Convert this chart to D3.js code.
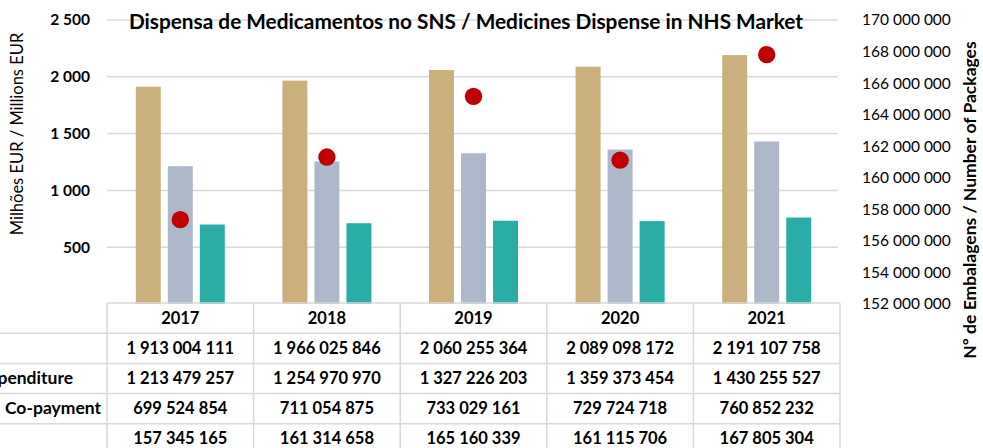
<!DOCTYPE html>
<html>
<head>
<meta charset="utf-8">
<script src="https://cdn.jsdelivr.net/npm/d3@7"></script>
<style>
  body { margin: 0; background: #fff; }
  svg { display: block; font-family: Lato, "Open Sans", sans-serif; }
  .grid line { stroke: #d9d9d9; stroke-width: 1.5; }
  .tbl line { stroke: #d9d9d9; stroke-width: 1.5; }
</style>
</head>
<body>
<svg id="chart" width="983" height="448"></svg>
<script>
const years = ["2017", "2018", "2019", "2020", "2021"];
const totalValues = [1913004111, 1966025846, 2060255364, 2089098172, 2191107758];
const nhsValues = [1213479257, 1254970970, 1327226203, 1359373454, 1430255527];
const copayValues = [699524854, 711054875, 733029161, 729724718, 760852232];
const packageValues = [157345165, 161314658, 165160339, 161115706, 167805304];
const leftTicks = [500, 1000, 1500, 2000, 2500];
const rightTicks = [152e6, 154e6, 156e6, 158e6, 160e6, 162e6, 164e6, 166e6, 168e6, 170e6];
const rowLabels = ["", "NHS Expenditure", "Co-payment", ""];

const seriesKeys = ["total", "nhs", "copay"];
const seriesColors = { total: "#cbb07d", nhs: "#adb9ca", copay: "#2bada7" };
const dotColor = "#c00000";

const svg = d3.select("#chart");
const plot = { left: 107, right: 840, top: 20, bottom: 304 };
const rowH = 30.2;

const locale = d3.formatLocale({ decimal: ",", thousands: "\u00a0", grouping: [3], currency: ["", ""] });
const fmt = locale.format(",d");

const x = d3.scaleBand().domain(years).range([plot.left, plot.right]);
const xSub = d3.scaleBand().domain(seriesKeys).range([-44.5, 44.5]).paddingInner(0.22);
const yLeft = d3.scaleLinear().domain([0, 2500]).range([plot.bottom, plot.top]);
const yRight = d3.scaleLinear().domain([152e6, 170e6]).range([plot.bottom, plot.top]);

// gridlines
svg.append("g").attr("class", "grid")
  .selectAll("line").data(leftTicks).join("line")
  .attr("x1", plot.left).attr("x2", plot.right - 2)
  .attr("y1", (d) => yLeft(d)).attr("y2", (d) => yLeft(d));

// left axis
const leftAxis = svg.append("g")
  .attr("transform", `translate(${plot.left - 14},0)`)
  .call(d3.axisLeft(yLeft).tickValues(leftTicks).tickFormat(fmt).tickSize(0));
leftAxis.select(".domain").remove();
leftAxis.selectAll("text")
  .attr("font-family", "Lato, sans-serif").attr("font-size", 15.5)
  .attr("font-weight", "bold").attr("fill", "#000");

// right axis
const rightAxis = svg.append("g")
  .attr("transform", `translate(${plot.right + 22},0)`)
  .call(d3.axisRight(yRight).tickValues(rightTicks).tickFormat(fmt).tickSize(0));
rightAxis.select(".domain").remove();
rightAxis.selectAll("text")
  .attr("x", 0)
  .attr("font-family", "Lato, sans-serif").attr("font-size", 15.5)
  .attr("fill", "#000");

// axis titles
svg.append("text")
  .attr("transform", `translate(23,134) rotate(-90)`)
  .attr("text-anchor", "middle")
  .attr("font-size", 16.5)
  .text("Milhões EUR / Millions EUR");

svg.append("text")
  .attr("transform", `translate(976,200) rotate(-90)`)
  .attr("text-anchor", "middle")
  .attr("font-size", 17.5)
  .attr("font-weight", "bold")
  .text("Nº de Embalagens / Number of Packages");

// bars
const barData = years.flatMap((yr, i) => [
  { year: yr, key: "total", value: totalValues[i] / 1e6 },
  { year: yr, key: "nhs", value: nhsValues[i] / 1e6 },
  { year: yr, key: "copay", value: copayValues[i] / 1e6 },
]);

svg.append("g").selectAll("rect").data(barData).join("rect")
  .attr("x", (d) => x(d.year) + x.bandwidth() / 2 + xSub(d.key))
  .attr("width", xSub.bandwidth())
  .attr("y", (d) => yLeft(d.value))
  .attr("height", (d) => yLeft(0) - yLeft(d.value))
  .attr("fill", (d) => seriesColors[d.key]);

// dots (number of packages)
svg.append("g").selectAll("circle").data(years).join("circle")
  .attr("cx", (d) => x(d) + x.bandwidth() / 2 + xSub("nhs") + xSub.bandwidth() / 2)
  .attr("cy", (d, i) => yRight(packageValues[i]))
  .attr("r", 8.7)
  .attr("fill", dotColor);

// title
svg.append("text")
  .attr("x", 466).attr("y", 28.5)
  .attr("text-anchor", "middle")
  .attr("font-size", 20.8)
  .attr("font-weight", "bold")
  .attr("fill", "#000")
  .text("Dispensa de Medicamentos no SNS / Medicines Dispense in NHS Market");

// data table
const tbl = svg.append("g").attr("class", "tbl");
const tableTop = plot.bottom - 1;
const rowLines = d3.range(1, 5).map((k) => tableTop + k * rowH);

tbl.append("line")
  .attr("x1", plot.left).attr("x2", plot.right)
  .attr("y1", tableTop).attr("y2", tableTop);
tbl.selectAll(".row-line").data(rowLines).join("line")
  .attr("class", "row-line")
  .attr("x1", 0).attr("x2", plot.right)
  .attr("y1", (d) => d).attr("y2", (d) => d);
tbl.selectAll(".col-line").data(years.map((yr) => x(yr)).concat([plot.right])).join("line")
  .attr("class", "col-line")
  .attr("x1", (d) => d).attr("x2", (d) => d)
  .attr("y1", tableTop).attr("y2", 460);

const rows = [years, totalValues.map(fmt), nhsValues.map(fmt), copayValues.map(fmt), packageValues.map(fmt)];
rows.forEach((cells, r) => {
  const cy = tableTop + r * rowH + rowH / 2 + 5.5;
  svg.append("g").selectAll("text").data(cells).join("text")
    .attr("x", (d, i) => x(years[i]) + x.bandwidth() / 2)
    .attr("y", cy)
    .attr("text-anchor", "middle")
    .attr("font-size", 16.5)
    .attr("font-weight", "bold")
    .text((d) => d);
});

const labelEnds = [0, 73, 101, 0];
rowLabels.forEach((lab, k) => {
  if (!lab) return;
  svg.append("text")
    .attr("x", labelEnds[k])
    .attr("y", tableTop + (k + 1) * rowH + rowH / 2 + 5.5)
    .attr("text-anchor", "end")
    .attr("font-size", 17.5)
    .attr("font-weight", "bold")
    .text(lab);
});
</script>
</body>
</html>
